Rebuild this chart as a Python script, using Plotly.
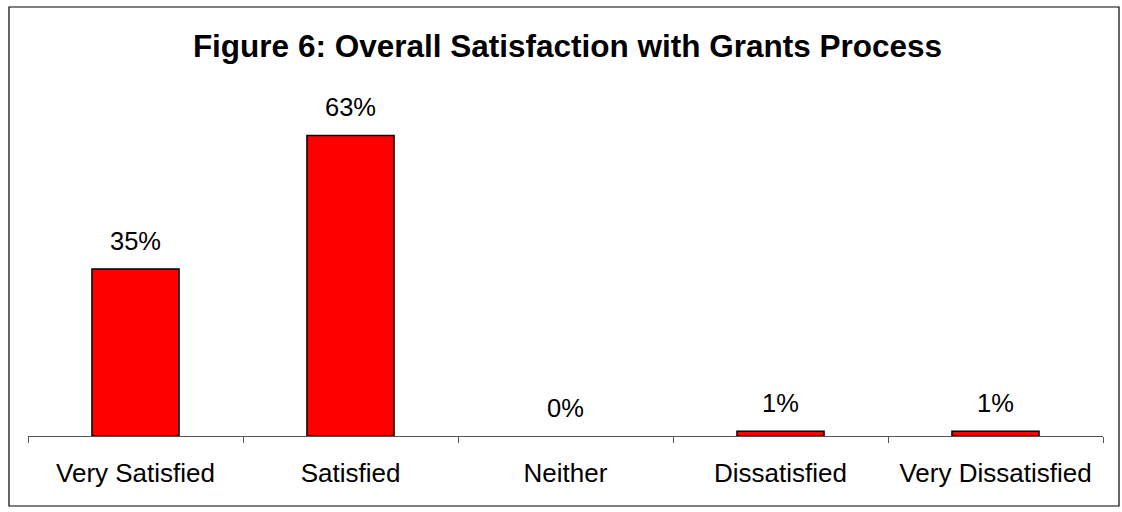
import plotly.graph_objects as go

categories = ["Very Satisfied", "Satisfied", "Neither", "Dissatisfied", "Very Dissatisfied"]
values = [35, 63, 0, 1, 1]
labels = ["35%", "63%", "0%", "1%", "1%"]
title = "Figure 6: Overall Satisfaction with Grants Process"

W, H = 1122, 512
L, R, T, B = 28, 19, 102, 76
pw, ph = W - L - R, H - T - B
FONT = "Liberation Sans, Arial"

fig = go.Figure()
fig.add_trace(go.Bar(
    x=categories, y=values,
    marker=dict(color="#FF0000",
                line=dict(color="#000000", width=[1.5 if v > 0 else 0 for v in values])),
    hoverinfo="skip",
))
for c, v, t in zip(categories, values, labels):
    fig.add_annotation(x=c, y=v, text=t, showarrow=False, yanchor="bottom", yshift=12,
                       font=dict(family=FONT, size=25.5, color="#000000"))

# outer border
bx0, by0, bx1, by1 = 9, 7, 1119, 506
fig.add_shape(type="rect", xref="paper", yref="paper",
              x0=(bx0 - L) / pw, x1=(bx1 - L) / pw,
              y0=(H - B - by1) / ph, y1=(H - B - by0) / ph,
              line=dict(color="#000000", width=1.2))

fig.update_layout(
    width=W, height=H,
    margin=dict(l=L, r=R, t=T, b=B),
    paper_bgcolor="white", plot_bgcolor="white",
    bargap=0.595,
    showlegend=False,
    title=dict(text="<b>" + title + "</b>", x=567.5 / W, xanchor="center", y=1 - 46 / H, yanchor="middle",
               font=dict(family=FONT, size=31.5, color="#000000")),
    xaxis=dict(showline=True, linecolor="#555555", linewidth=1, ticks="outside", tickson="boundaries",
               ticklen=6, tickcolor="#555555", ticklabelstandoff=14,
               tickfont=dict(family=FONT, size=26, color="#000000"),
               showgrid=False, zeroline=False),
    yaxis=dict(range=[0, 70], visible=False, showgrid=False, zeroline=False),
)

fig.write_html("out.html")
